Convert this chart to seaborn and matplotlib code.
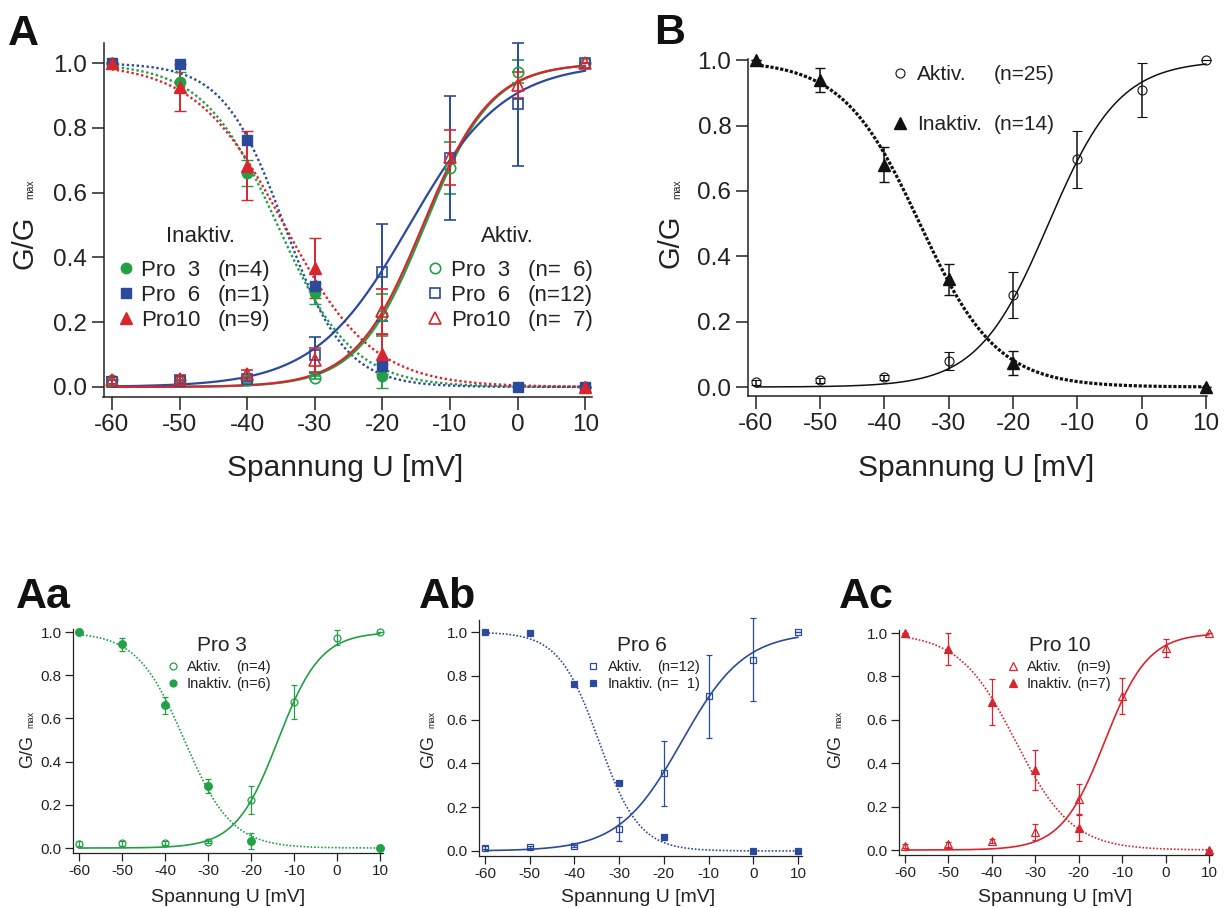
import numpy as np
import pandas as pd
import matplotlib
matplotlib.use("Agg")
import matplotlib.pyplot as plt
from matplotlib.lines import Line2D
import seaborn as sns

# ---------------------------------------------------------------- data
voltage = [-60, -50, -40, -30, -20, -10, 0, 10]
voltage_ticks = [-60, -50, -40, -30, -20, -10, 0, 10]
gg_ticks = [0.0, 0.2, 0.4, 0.6, 0.8, 1.0]

# Pro 3
pro3_act = [0.020, 0.021, 0.023, 0.029, 0.223, 0.677, 0.974, 1.000]
pro3_act_err = [0.012, 0.010, 0.008, 0.005, 0.065, 0.080, 0.035, 0.0]
pro3_inact_v = [-60, -50, -40, -30, -20, 10]
pro3_inact = [1.000, 0.943, 0.660, 0.289, 0.034, 0.000]
pro3_inact_err = [0.0, 0.030, 0.040, 0.032, 0.037, 0.0]
pro3_act_fit = (-13.7, 4.95)      # Boltzmann: V1/2 [mV], slope k [mV]
pro3_inact_fit = (-35.5, 5.5)

# Pro 6
pro6_act = [0.015, 0.017, 0.024, 0.099, 0.354, 0.707, 0.873, 1.000]
pro6_act_err = [0.006, 0.005, 0.005, 0.055, 0.150, 0.190, 0.190, 0.0]
pro6_inact_v = [-60, -50, -40, -30, -20, 0, 10]
pro6_inact = [1.000, 0.997, 0.762, 0.311, 0.064, 0.000, 0.000]
pro6_act_fit = (-16.0, 7.0)
pro6_inact_fit = (-34.5, 4.5)

# Pro 10
pro10_act = [0.020, 0.026, 0.041, 0.084, 0.233, 0.709, 0.931, 1.000]
pro10_act_err = [0.010, 0.010, 0.010, 0.037, 0.070, 0.084, 0.040, 0.0]
pro10_inact_v = [-60, -50, -40, -30, -20, 10]
pro10_inact = [1.000, 0.925, 0.683, 0.368, 0.103, 0.000]
pro10_inact_err = [0.0, 0.073, 0.107, 0.092, 0.062, 0.0]
pro10_act_fit = (-14.0, 5.0)
pro10_inact_fit = (-34.5, 6.5)

# all cells pooled
all_act = [0.014, 0.020, 0.030, 0.080, 0.282, 0.697, 0.910, 1.000]
all_act_err = [0.008, 0.008, 0.008, 0.027, 0.070, 0.088, 0.083, 0.0]
all_inact_v = [-60, -50, -40, -30, -20, 10]
all_inact = [1.000, 0.939, 0.681, 0.330, 0.073, 0.000]
all_inact_err = [0.0, 0.037, 0.054, 0.047, 0.037, 0.0]
all_act_fit = (-14.5, 5.5)
all_inact_fit = (-34.5, 6.0)

GREEN = "#22a045"
BLUE = "#2b4a9c"
RED = "#d8262e"
BLACK = "#111111"
INK = "#222222"

# ---------------------------------------------------------------- style
sns.set_theme(style="ticks")
plt.rcParams["font.family"] = ["Liberation Sans", "DejaVu Sans"]
plt.rcParams["axes.unicode_minus"] = False
plt.rcParams["text.color"] = INK

W, H = 1232, 908
fig = plt.figure(figsize=(W / 100, H / 100), dpi=100)
fig.patch.set_facecolor("white")


def fx(x):
    return x / W


def fy(y):
    return 1 - y / H


def ptext(x, y, s, size, **kw):
    return fig.text(fx(x), fy(y), s, fontsize=size, **kw)


def key(x, y, marker, color, filled, ms, mew):
    fig.add_artist(Line2D([fx(x)], [fy(y)], transform=fig.transFigure,
                          marker=marker, ms=ms, mew=mew, mec=color,
                          mfc=color if filled else "none", ls="none"))


def panel(left, top, right, bottom, xlim, ylim, tick_fs, tick_len, spine_w, pad):
    ax = fig.add_axes([fx(left), fy(bottom), (right - left) / W, (bottom - top) / H])
    ax.set_facecolor("none")
    sns.despine(ax=ax)
    for s in ("left", "bottom"):
        ax.spines[s].set_linewidth(spine_w)
        ax.spines[s].set_color(INK)
    ax.set_xlim(*xlim)
    ax.set_ylim(*ylim)
    ax.set_xticks(voltage_ticks)
    ax.set_xticklabels([str(v) for v in voltage_ticks])
    ax.set_yticks(gg_ticks)
    ax.set_yticklabels([f"{t:.1f}" for t in gg_ticks])
    ax.tick_params(direction="out", length=tick_len, width=spine_w, colors=INK,
                   labelsize=tick_fs, pad=pad)
    return ax


v_fine = np.linspace(-60, 10, 400)


def boltz_up(v, vh, k):
    return 1.0 / (1.0 + np.exp((vh - v) / k))


def boltz_down(v, vh, k):
    return 1.0 / (1.0 + np.exp((v - vh) / k))


def fit_curve(ax, fit, rising, color, lw, ls):
    g = boltz_up(v_fine, *fit) if rising else boltz_down(v_fine, *fit)
    df = pd.DataFrame({"U": v_fine, "G": g})
    sns.lineplot(data=df, x="U", y="G", ax=ax, color=color, lw=lw,
                 estimator=None, sort=False)
    line = ax.lines[-1]
    line.set_linestyle(ls)
    line.set_dash_capstyle("butt")
    line.set_clip_on(False)
    ax.set_xlabel("")
    ax.set_ylabel("")


def points(ax, v, g, err, marker, color, filled, ms, mew, capsize, elw):
    cont = ax.errorbar(v, g, yerr=err, fmt=marker, ms=ms, mew=mew, mec=color,
                       mfc=color if filled else "none", ecolor=color,
                       elinewidth=elw, capsize=capsize, capthick=elw, zorder=5)
    for art in cont.get_children():
        art.set_clip_on(False)


def ylabel(x_base, y_start, fs, y_max, fs_max):
    ptext(x_base, y_start, "G/G", fs, rotation=90, rotation_mode="anchor",
          ha="left", va="baseline")
    ptext(x_base + 1, y_max, "max", fs_max, rotation=90, rotation_mode="anchor",
          ha="left", va="baseline")


# ---------------------------------------------------------------- panel A
axA = panel(103.5, 43, 592, 397, (-61.24, 11.0), (-0.031, 1.062), 17.5, 9, 1.1, 3)
series = [
    (pro3_act, pro3_act_err, pro3_inact_v, pro3_inact, pro3_inact_err,
     pro3_act_fit, pro3_inact_fit, "o", GREEN, 7.5, 7.5),
    (pro6_act, pro6_act_err, pro6_inact_v, pro6_inact, None,
     pro6_act_fit, pro6_inact_fit, "s", BLUE, 7.0, 7.5),
    (pro10_act, pro10_act_err, pro10_inact_v, pro10_inact, pro10_inact_err,
     pro10_act_fit, pro10_inact_fit, "^", RED, 8.5, 8.5),
]
for (act, act_err, iv, inact, inact_err, afit, ifit, mk, col, ms_o, ms_f) in series:
    fit_curve(axA, ifit, False, col, 1.7, (0, (1, 1.1)))
for (act, act_err, iv, inact, inact_err, afit, ifit, mk, col, ms_o, ms_f) in series:
    fit_curve(axA, afit, True, col, 1.6, "-")
for (act, act_err, iv, inact, inact_err, afit, ifit, mk, col, ms_o, ms_f) in series:
    points(axA, voltage, act, act_err, mk, col, False, ms_o, 1.2, 4.3, 1.4)
    points(axA, iv, inact, inact_err, mk, col, True, ms_f, 1.0, 4.3, 1.4)

ptext(8, 45, "A", 31, fontweight="bold", color=BLACK)
ptext(345, 476, "Spannung U [mV]", 21.5, ha="center", va="baseline")
ylabel(32, 269, 21, 199, 7.5)

# legends
ptext(200, 242, "Inaktiv.", 16, ha="center", va="baseline")
ptext(507, 242, "Aktiv.", 16, ha="center", va="baseline")
rowsA = [268, 293, 318]
inact_lbl = [("Pro  3", "(n=4)"), ("Pro  6", "(n=1)"), ("Pro10", "(n=9)")]
act_lbl = [("Pro  3", "(n=  6)"), ("Pro  6", "(n=12)"), ("Pro10", "(n=  7)")]
legend_marks = [("o", GREEN, 7.5), ("s", BLUE, 7.0), ("^", RED, 8.5)]
for yrow, (mk, col, ms), (a, b), (c, d) in zip(rowsA, legend_marks, inact_lbl, act_lbl):
    key(126, yrow, mk, col, True, ms, 1.0)
    ptext(141, yrow + 8, a, 16, va="baseline")
    ptext(218, yrow + 8, b, 16, va="baseline")
    key(435, yrow, mk, col, False, ms, 1.2)
    ptext(451, yrow + 8, c, 16, va="baseline")
    ptext(528, yrow + 8, d, 16, va="baseline")

# ---------------------------------------------------------------- panel B
axB = panel(748, 59, 1206.5, 396, (-61.2, 10.05), (-0.0275, 1.004), 17.5, 9, 1.1, 3)
fit_curve(axB, all_inact_fit, False, BLACK, 2.3, (0, (1, 0.55)))
fit_curve(axB, all_act_fit, True, BLACK, 1.1, "-")
points(axB, voltage, all_act, all_act_err, "o", BLACK, False, 6.5, 0.8, 3.6, 1.1)
points(axB, all_inact_v, all_inact, all_inact_err, "^", BLACK, True, 8.5, 1.0, 3.6, 1.1)

ptext(654, 44, "B", 31, fontweight="bold", color=BLACK)
ptext(976, 476, "Spannung U [mV]", 21.5, ha="center", va="baseline")
ylabel(679, 268, 21, 199, 7.5)

key(900, 73, "o", BLACK, False, 6.5, 0.8)
ptext(917, 80.5, "Aktiv.", 15, va="baseline")
ptext(994, 80.5, "(n=25)", 15, va="baseline")
key(900, 123, "^", BLACK, True, 8.5, 1.0)
ptext(917, 130.5, "Inaktiv.", 15, va="baseline")
ptext(994, 130.5, "(n=14)", 15, va="baseline")

# ---------------------------------------------------------------- panels Aa, Ab, Ac
lower = [
    dict(box=(73, 629, 383, 853), xlim=(-61.4, 10.7), ylim=(-0.023, 1.014),
         act=pro3_act, act_err=pro3_act_err, iv=pro3_inact_v, inact=pro3_inact,
         inact_err=pro3_inact_err, afit=pro3_act_fit, ifit=pro3_inact_fit,
         mk="o", col=GREEN, ms=5.5, tag="Aa", tag_x=16, title="Pro 3", title_x=222,
         key_x=173, txt_x=187, n_x=236, n_act="(n=4)", n_inact="(n=6)",
         xlabel_x=228, ylab_x=32),
    dict(box=(479, 620, 802, 856), xlim=(-61.34, 10.9), ylim=(-0.023, 1.055),
         act=pro6_act, act_err=pro6_act_err, iv=pro6_inact_v, inact=pro6_inact,
         inact_err=None, afit=pro6_act_fit, ifit=pro6_inact_fit,
         mk="s", col=BLUE, ms=5.0, tag="Ab", tag_x=419, title="Pro 6", title_x=642,
         key_x=593, txt_x=608, n_x=657, n_act="(n=12)", n_inact="(n=  1)",
         xlabel_x=638, ylab_x=433),
    dict(box=(899, 630, 1212, 855), xlim=(-61.38, 10.7), ylim=(-0.023, 1.014),
         act=pro10_act, act_err=pro10_act_err, iv=pro10_inact_v, inact=pro10_inact,
         inact_err=pro10_inact_err, afit=pro10_act_fit, ifit=pro10_inact_fit,
         mk="^", col=RED, ms=6.0, tag="Ac", tag_x=839, title="Pro 10", title_x=1060,
         key_x=1013, txt_x=1027, n_x=1076, n_act="(n=9)", n_inact="(n=7)",
         xlabel_x=1055, ylab_x=840),
]
for p in lower:
    l, t, r, b = p["box"]
    ax = panel(l, t, r, b, p["xlim"], p["ylim"], 11, 6, 0.9, 2)
    fit_curve(ax, p["ifit"], False, p["col"], 1.2, (0, (1, 1.1)))
    fit_curve(ax, p["afit"], True, p["col"], 1.2, "-")
    points(ax, voltage, p["act"], p["act_err"], p["mk"], p["col"], False,
           p["ms"] - 0.5, 0.9, 2.4, 0.9)
    points(ax, p["iv"], p["inact"], p["inact_err"], p["mk"], p["col"], True,
           p["ms"], 0.9, 2.4, 0.9)

    ptext(p["tag_x"], 608, p["tag"], 31, fontweight="bold", color=BLACK)
    ptext(p["title_x"], 651, p["title"], 15, ha="center", va="baseline")
    key(p["key_x"], 666, p["mk"], p["col"], False, p["ms"] - 0.5, 0.9)
    ptext(p["txt_x"], 671.2, "Aktiv.", 10.5, va="baseline")
    ptext(p["n_x"], 671.2, p["n_act"], 10.5, va="baseline")
    key(p["key_x"], 683, p["mk"], p["col"], True, p["ms"] - 0.5, 0.9)
    ptext(p["txt_x"], 688.2, "Inaktiv.", 10.5, va="baseline")
    ptext(p["n_x"], 688.2, p["n_inact"], 10.5, va="baseline")
    ptext(p["xlabel_x"], 902, "Spannung U [mV]", 14, ha="center", va="baseline")
    ylabel(p["ylab_x"], 768, 13, 728, 6.5)

fig.savefig("out.png", dpi=100, facecolor="white")
